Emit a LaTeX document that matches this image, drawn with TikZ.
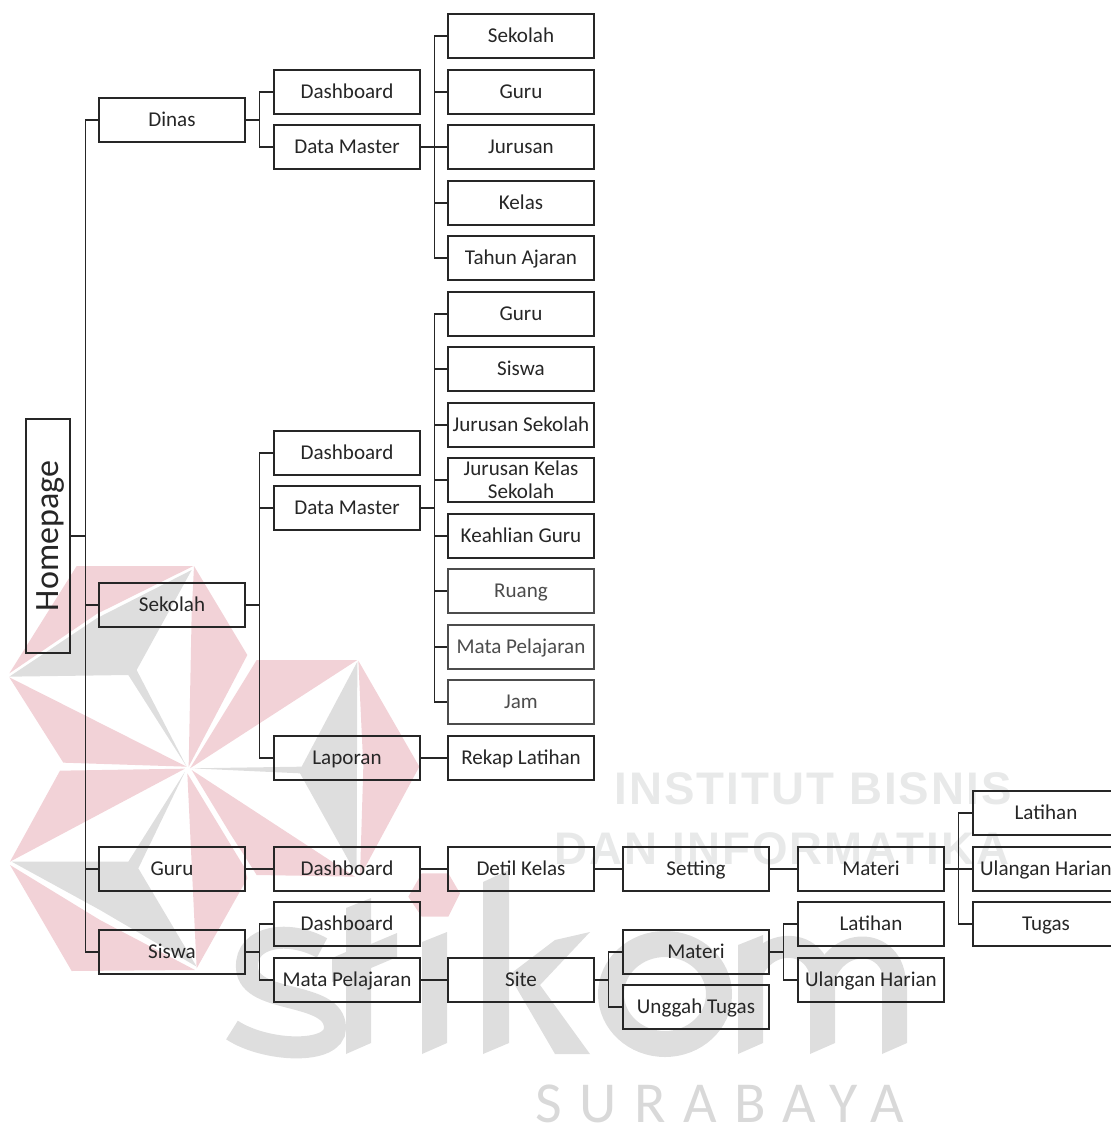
\documentclass[tikz,border=0pt]{standalone}
\usepackage{fontspec}
\setmainfont{Carlito}
\newfontfamily\wmfont[LetterSpace=4.5]{Liberation Sans}
\newfontfamily\citefont[LetterSpace=30]{Carlito}
\usepackage{xcolor}
\definecolor{wmpink}{HTML}{F2D2D7}
\definecolor{wmgray}{HTML}{DEDEDE}
\definecolor{wmtext}{HTML}{E8E9E9}
\definecolor{wmcity}{HTML}{D9D9D9}
\usetikzlibrary{positioning}

\begin{document}
\begin{tikzpicture}[x=0.02cm, y=-0.02cm,
    basebox/.style={draw=black!85, line width=0.8pt, minimum width=2.92cm, minimum height=0.88cm, inner sep=0pt, align=center, text=black!85, font=\fontsize{12}{13}\selectfont},
    menubox/.style={basebox, execute at begin node={\rule[-2.5pt]{0pt}{12.5pt}}},
    fadebox/.style={menubox, draw=black!70, text=black!70},
    link/.style={draw=black!85, line width=0.8pt}]
  \useasboundingbox (0,0) rectangle (1111,1127);
  \clip (0,0) rectangle (1111,1127);

  % Watermark star
  \begin{scope}[shift={(0,540)}, scale=1/3]
    \fill[wmpink] (28,400) -- (230,78) -- (580,78) -- (290,222) -- cycle;
    \fill[wmpink] (582,78) -- (742,345) -- (566,680) -- (575,220) -- cycle;
    \fill[wmpink] (28,412) -- (190,668) -- (560,680) -- cycle;
    \fill[wmpink] (570,685) -- (770,360) -- (1072,360) -- cycle;
    \fill[wmpink] (1075,362) -- (1258,680) -- (1080,1010) -- (1090,680) -- cycle;
    \fill[wmpink] (575,690) -- (1065,1010) -- (770,1005) -- (690,880) -- cycle;
    \fill[wmpink] (180,692) -- (555,686) -- (30,965) -- cycle;
    \fill[wmpink] (30,975) -- (300,1140) -- (585,1290) -- (215,1293) -- cycle;
    \fill[wmpink] (562,700) -- (735,985) -- (742,1015) -- (590,1285) -- cycle;
    \fill[wmgray] (28,410) -- (290,235) -- (575,90) -- (410,390) -- (560,680) -- (385,405) -- cycle;
    \fill[wmgray] (1072,365) -- (905,680) -- (575,685) -- (900,700) -- (1070,1005) -- cycle;
    \fill[wmgray] (35,965) -- (385,965) -- (555,695) -- (415,985) -- (590,1280) -- (300,1110) -- cycle;
    \fill[wmpink] (1225,1070) -- (1265,1000) -- (1345,1000) -- (1380,1060) -- (1345,1130) -- (1265,1130) -- cycle;
  \end{scope}

  % Watermark letters
  \draw[wmgray, line width=0.44cm] (322,948) .. controls (290,930) and (245,935) .. (247,968) .. controls (249,1005) and (335,990) .. (335,1028) .. controls (335,1055) and (265,1052) .. (232,1030);
  \fill[wmgray] (346,1054) -- (371,1043) -- (371,944) -- (397,933) -- (397,957) -- (371,968) -- (371,898) -- (346,908) -- (346,952) -- (332,958) -- (332,982) -- (346,976) -- cycle;
  \fill[wmgray] (422,1054) -- (447,1043) -- (447,932) -- (422,942) -- cycle;
  \fill[wmgray] (483,1054) -- (509,1043) -- (509,975) -- (555,1054) -- (590,1054) -- (540,985) -- (590,932) -- (555,940) -- (509,975) -- (509,870) -- (483,882) -- cycle;
  \draw[wmgray, line width=0.52cm] (665,994) ellipse (54 and 50);
  \fill[wmgray] (738,1054) -- (763,1043) -- (763,935) -- (738,945) -- cycle;
  \fill[wmgray] (810,1054) -- (835,1043) -- (835,975) -- (810,975) -- cycle;
  \fill[wmgray] (882,1054) -- (907,1043) -- (907,975) -- (882,975) -- cycle;
  \draw[wmgray, line width=0.44cm] (750,980) .. controls (760,935) and (822,935) .. (822,985);
  \draw[wmgray, line width=0.44cm] (822,985) .. controls (832,935) and (895,935) .. (895,985);

  % Watermark texts
  \node[wmtext, inner sep=0pt, font=\wmfont\bfseries\fontsize{26}{26}\selectfont] (wminstitut) at (813,789) {INSTITUT BISNIS};
  \node[wmtext, inner sep=0pt, font=\wmfont\bfseries\fontsize{26}{26}\selectfont] (wmdan) at (782,849) {DAN INFORMATIKA};
  \node[wmcity, inner sep=0pt, font=\citefont\fontsize{33}{33}\selectfont] (wmcity) at (720,1104) {SURABAYA};

  % Root
  \node[basebox, rotate=90, minimum width=4.68cm, font=\fontsize{19.4}{20}\selectfont] (home) at (48,536) {\rule[-4pt]{0pt}{19.6pt}Homepage};

  % Roles
  \node[menubox] (dinas) at (172,120) {Dinas};
  \node[menubox] (sekolah) at (172,605) {Sekolah};
  \node[menubox] (guru) at (172,869) {Guru};
  \node[menubox] (siswa) at (172,952) {Siswa};

  % Dinas menu
  \node[menubox] (dinasdash) at (347,92) {Dashboard};
  \node[menubox] (dinasmaster) at (347,147) {Data Master};
  \node[menubox] (dmsekolah) at (521,36) {Sekolah};
  \node[menubox] (dmguru) at (521,92) {Guru};
  \node[menubox] (dmjurusan) at (521,147) {Jurusan};
  \node[menubox] (dmkelas) at (521,203) {Kelas};
  \node[menubox] (dmtahun) at (521,258) {Tahun Ajaran};

  % Sekolah menu
  \node[menubox] (sekdash) at (347,453) {Dashboard};
  \node[menubox] (sekmaster) at (347,508) {Data Master};
  \node[menubox] (seklaporan) at (347,758) {Laporan};
  \node[menubox] (smguru) at (521,314) {Guru};
  \node[menubox] (smsiswa) at (521,369) {Siswa};
  \node[menubox] (smjurusan) at (521,425) {Jurusan Sekolah};
  \node[basebox] (smkelas) at (521,480) {Jurusan Kelas\\Sekolah};
  \node[menubox] (smkeahlian) at (521,536) {Keahlian Guru};
  \node[fadebox] (smruang) at (521,591) {Ruang};
  \node[fadebox] (smmapel) at (521,647) {Mata Pelajaran};
  \node[fadebox] (smjam) at (521,702) {Jam};
  \node[menubox] (smrekap) at (521,758) {Rekap Latihan};

  % Guru menu
  \node[menubox] (gurudash) at (347,869) {Dashboard};
  \node[menubox] (gurudetil) at (521,869) {Detil Kelas};
  \node[menubox] (gurusetting) at (696,869) {Setting};
  \node[menubox] (gurumateri) at (871,869) {Materi};
  \node[menubox] (gurulatihan) at (1046,813) {Latihan};
  \node[menubox] (guruulangan) at (1046,869) {Ulangan Harian};
  \node[menubox] (gurutugas) at (1046,924) {Tugas};

  % Siswa menu
  \node[menubox] (siswadash) at (347,924) {Dashboard};
  \node[menubox] (siswamapel) at (347,980) {Mata Pelajaran};
  \node[menubox] (siswasite) at (521,980) {Site};
  \node[menubox] (siswamateri) at (696,952) {Materi};
  \node[menubox] (siswaunggah) at (696,1007) {Unggah Tugas};
  \node[menubox] (siswalatihan) at (871,924) {Latihan};
  \node[menubox] (siswaulangan) at (871,980) {Ulangan Harian};

  % Links from the root
  \draw[link] (home.south) -- ++(15,0) |- (dinas.west);
  \draw[link] (home.south) -- ++(15,0) |- (sekolah.west);
  \draw[link] (home.south) -- ++(15,0) |- (guru.west);
  \draw[link] (home.south) -- ++(15,0) |- (siswa.west);

  % Links of Dinas
  \draw[link] (dinas.east) -- ++(14,0) |- (dinasdash.west);
  \draw[link] (dinas.east) -- ++(14,0) |- (dinasmaster.west);
  \draw[link] (dinasmaster.east) -- ++(14,0) |- (dmsekolah.west);
  \draw[link] (dinasmaster.east) -- ++(14,0) |- (dmguru.west);
  \draw[link] (dinasmaster.east) -- (dmjurusan.west);
  \draw[link] (dinasmaster.east) -- ++(14,0) |- (dmkelas.west);
  \draw[link] (dinasmaster.east) -- ++(14,0) |- (dmtahun.west);

  % Links of Sekolah
  \draw[link] (sekolah.east) -- ++(14,0) |- (sekdash.west);
  \draw[link] (sekolah.east) -- ++(14,0) |- (sekmaster.west);
  \draw[link] (sekolah.east) -- ++(14,0) |- (seklaporan.west);
  \draw[link] (sekmaster.east) -- ++(14,0) |- (smguru.west);
  \draw[link] (sekmaster.east) -- ++(14,0) |- (smsiswa.west);
  \draw[link] (sekmaster.east) -- ++(14,0) |- (smjurusan.west);
  \draw[link] (sekmaster.east) -- ++(14,0) |- (smkelas.west);
  \draw[link] (sekmaster.east) -- ++(14,0) |- (smkeahlian.west);
  \draw[link] (sekmaster.east) -- ++(14,0) |- (smruang.west);
  \draw[link] (sekmaster.east) -- ++(14,0) |- (smmapel.west);
  \draw[link] (sekmaster.east) -- ++(14,0) |- (smjam.west);
  \draw[link] (seklaporan.east) -- (smrekap.west);

  % Links of Guru
  \draw[link] (guru.east) -- (gurudash.west);
  \draw[link] (gurudash.east) -- (gurudetil.west);
  \draw[link] (gurudetil.east) -- (gurusetting.west);
  \draw[link] (gurusetting.east) -- (gurumateri.west);
  \draw[link] (gurumateri.east) -- ++(14,0) |- (gurulatihan.west);
  \draw[link] (gurumateri.east) -- (guruulangan.west);
  \draw[link] (gurumateri.east) -- ++(14,0) |- (gurutugas.west);

  % Links of Siswa
  \draw[link] (siswa.east) -- ++(14,0) |- (siswadash.west);
  \draw[link] (siswa.east) -- ++(14,0) |- (siswamapel.west);
  \draw[link] (siswamapel.east) -- (siswasite.west);
  \draw[link] (siswasite.east) -- ++(14,0) |- (siswamateri.west);
  \draw[link] (siswasite.east) -- ++(14,0) |- (siswaunggah.west);
  \draw[link] (siswamateri.east) -- ++(14,0) |- (siswalatihan.west);
  \draw[link] (siswamateri.east) -- ++(14,0) |- (siswaulangan.west);
\end{tikzpicture}
\end{document}
